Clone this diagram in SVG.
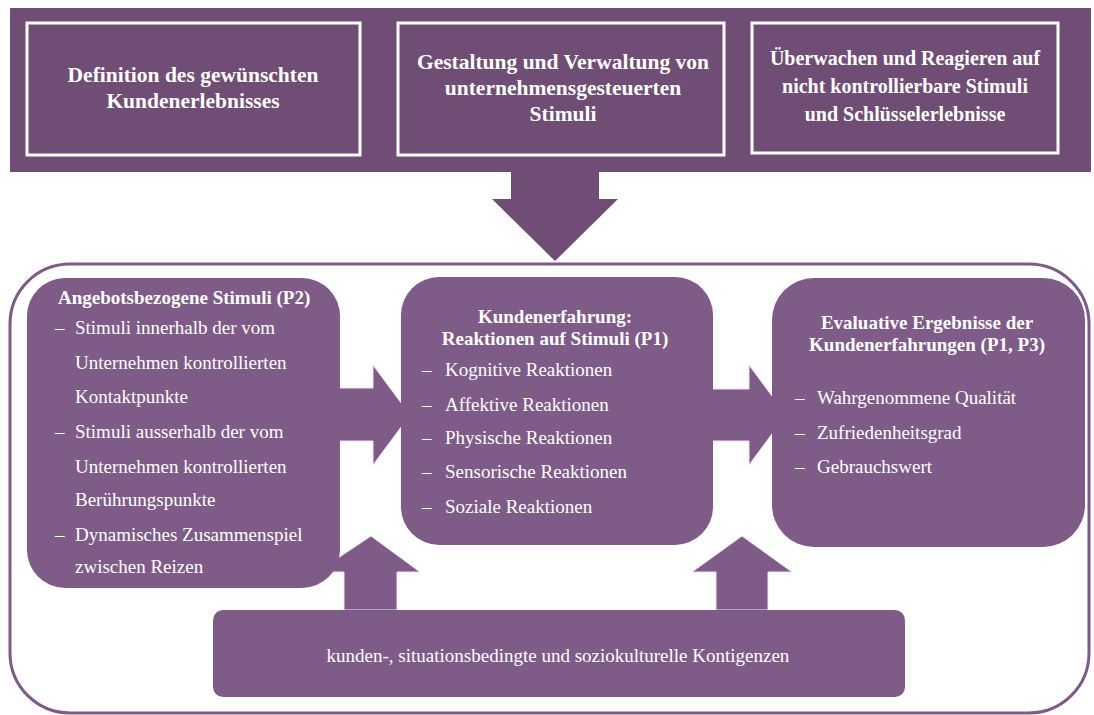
<svg xmlns="http://www.w3.org/2000/svg" width="1094" height="715" viewBox="0 0 1094 715">
<style>
.band{fill:#704d74}
.hbox{fill:#704d74;stroke:#ffffff;stroke-width:3}
.box{fill:#7f5b87}
.arr{fill:#7f5b87;stroke:#efe4f0;stroke-width:1}
.darr{fill:#704d74}
.frame{fill:#ffffff;stroke:#7e5a86;stroke-width:3}
.ht{font-family:"Liberation Serif","Times New Roman",serif;font-weight:bold;font-size:21.5px;fill:#ffffff;text-anchor:middle}
.ht3{font-size:20px}
.bt{font-family:"Liberation Serif","Times New Roman",serif;font-weight:bold;font-size:19px;fill:#ffffff}
.t{font-family:"Liberation Serif","Times New Roman",serif;font-size:19px;fill:#ffffff}
.c{text-anchor:middle}
</style>
<rect x="0" y="0" width="1094" height="715" fill="#ffffff"/>
<g id="top-band">
<rect class="band" x="10" y="8" width="1081" height="164"/>
</g>
<g id="outer-frame">
<rect class="frame" x="10" y="264" width="1079" height="449" rx="60" ry="60"/>
</g>
<g id="connectors">
<polygon class="darr" points="511,171 599,171 599,199 618,199 555,261 492,199 511,199"/>
<polygon class="arr" points="335,388 373,388 373,365 410,415 373,465 373,441 335,441"/>
<polygon class="arr" points="711,389 749,389 749,365 786,415 749,465 749,441 711,441"/>
<polygon class="arr" points="344,610 344,572 317,572 371,536 420,572 397,572 397,610"/>
<polygon class="arr" points="716,610 716,572 692,572 742,536 792,572 768,572 768,610"/>
</g>
<g id="box-definition">
<rect class="hbox" x="27" y="23" width="333" height="132"/>
<text class="ht" x="193" y="82">Definition des gewünschten</text>
<text class="ht" x="193" y="108">Kundenerlebnisses</text>
</g>
<g id="box-gestaltung">
<rect class="hbox" x="398" y="23" width="326" height="132"/>
<text class="ht" x="563" y="69">Gestaltung und Verwaltung von</text>
<text class="ht" x="563" y="95">unternehmensgesteuerten</text>
<text class="ht" x="563" y="121">Stimuli</text>
</g>
<g id="box-ueberwachen">
<rect class="hbox" x="752" y="23" width="306" height="130"/>
<text class="ht ht3" x="905" y="65">Überwachen und Reagieren auf</text>
<text class="ht ht3" x="905" y="93">nicht kontrollierbare Stimuli</text>
<text class="ht ht3" x="905" y="121">und Schlüsselerlebnisse</text>
</g>
<g id="box-stimuli">
<rect class="box" x="27" y="278" width="313" height="310" rx="38" ry="38"/>
<text class="bt" x="58" y="304">Angebotsbezogene Stimuli (P2)</text>
<text class="t" x="55" y="334">–</text><text class="t" x="75" y="334">Stimuli innerhalb der vom</text>
<text class="t" x="75" y="369">Unternehmen kontrollierten</text>
<text class="t" x="75" y="403">Kontaktpunkte</text>
<text class="t" x="55" y="438">–</text><text class="t" x="75" y="438">Stimuli ausserhalb der vom</text>
<text class="t" x="75" y="473">Unternehmen kontrollierten</text>
<text class="t" x="75" y="506">Berührungspunkte</text>
<text class="t" x="55" y="541">–</text><text class="t" x="75" y="541">Dynamisches Zusammenspiel</text>
<text class="t" x="75" y="573">zwischen Reizen</text>
</g>
<g id="box-kundenerfahrung">
<rect class="box" x="401" y="277" width="312" height="268" rx="38" ry="38"/>
<text class="bt c" x="555" y="323">Kundenerfahrung:</text>
<text class="bt c" x="555" y="345">Reaktionen auf Stimuli (P1)</text>
<text class="t" x="422" y="376">–</text><text class="t" x="445" y="376">Kognitive Reaktionen</text>
<text class="t" x="422" y="411">–</text><text class="t" x="445" y="411">Affektive Reaktionen</text>
<text class="t" x="422" y="444">–</text><text class="t" x="445" y="444">Physische Reaktionen</text>
<text class="t" x="422" y="478">–</text><text class="t" x="445" y="478">Sensorische Reaktionen</text>
<text class="t" x="422" y="513">–</text><text class="t" x="445" y="513">Soziale Reaktionen</text>
</g>
<g id="box-ergebnisse">
<rect class="box" x="772" y="278" width="313" height="269" rx="42" ry="42"/>
<text class="bt c" x="927" y="329">Evaluative Ergebnisse der</text>
<text class="bt c" x="927" y="351">Kundenerfahrungen (P1, P3)</text>
<text class="t" x="795" y="404">–</text><text class="t" x="817" y="404">Wahrgenommene Qualität</text>
<text class="t" x="795" y="439">–</text><text class="t" x="817" y="439">Zufriedenheitsgrad</text>
<text class="t" x="795" y="473">–</text><text class="t" x="817" y="473">Gebrauchswert</text>
</g>
<g id="box-kontingenzen">
<rect class="box" x="213" y="610" width="692" height="87" rx="10" ry="10"/>
<text class="t c" x="558" y="662">kunden-, situationsbedingte und soziokulturelle Kontigenzen</text>
</g>
</svg>
